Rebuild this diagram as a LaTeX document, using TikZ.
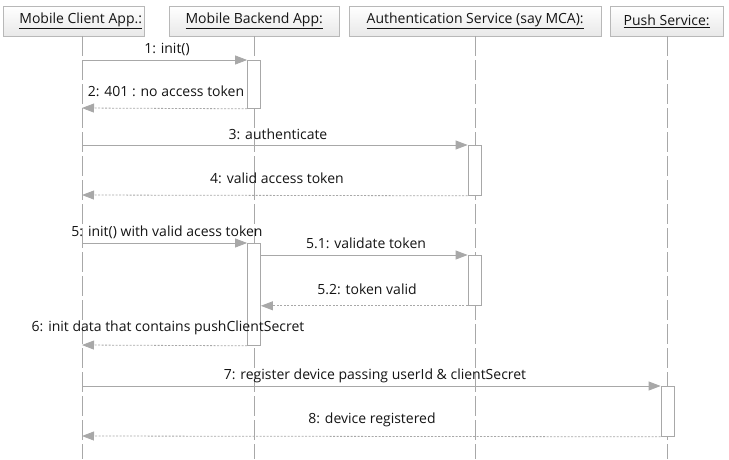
\documentclass[tikz,border=0pt]{standalone}
\usepackage{fontspec}
\setmainfont{Open Sans}
\usetikzlibrary{arrows.meta}
\definecolor{ln}{HTML}{A8A8A8}
\definecolor{bd}{HTML}{B8B8B8}
\begin{document}
\begin{tikzpicture}[x=1pt,y=-1pt,
 head/.style={draw=bd, top color=white, bottom color=black!9, minimum height=30pt, inner sep=0pt, font=\fontsize{14}{16}\selectfont, text=black!92, anchor=north west},
 life/.style={draw=ln, dash pattern=on 20pt off 4pt, line width=0.8pt},
 act/.style={draw=ln, fill=white, minimum width=13pt, inner sep=0pt, anchor=north, line width=0.8pt},
 call/.style={draw=ln, line width=0.8pt, -{Triangle[length=12pt,width=9pt,fill=ln]}},
 ret/.style={call, dash pattern=on 2pt off 1.5pt},
 lbl/.style={font=\fontsize{14}{16}\selectfont, text=black!92, inner sep=0pt}]
\useasboundingbox (0,0) rectangle (729,459);
% header boxes
\node[head, minimum width=141pt] (h1) at (3,6) {\hspace*{14pt}\underline{Mobile Client App.:}};
\node[head, minimum width=170pt] (h2) at (169,6) {\underline{Mobile Backend App:}};
\node[head, minimum width=252pt] (h3) at (349,6) {\underline{Authentication Service (say MCA):}};
\node[head, minimum width=113pt] (h4) at (610,6) {\underline{Push Service:}};
% lifelines
\coordinate (l1t) at (82,36);  \coordinate (l1b) at (82,459);
\coordinate (l2t) at (254,36); \coordinate (l2b) at (254,459);
\coordinate (l3t) at (475,36); \coordinate (l3b) at (475,459);
\coordinate (l4t) at (667,36); \coordinate (l4b) at (667,459);
\draw[life] (l1t) -- (l1b);
\draw[life] (l2t) -- (l2b);
\draw[life] (l3t) -- (l3b);
\draw[life] (l4t) -- (l4b);
% activation boxes
\node[act, minimum height=48pt]  (a1) at (254,60) {};
\node[act, minimum height=50pt]  (a2) at (474.5,145) {};
\node[act, minimum height=102pt] (a3) at (254,243) {};
\node[act, minimum height=50pt]  (a4) at (474.5,255) {};
\node[act, minimum height=50pt]  (a5) at (667.5,386) {};
% client points
\coordinate (c1) at (82,60);
\coordinate (c2) at (82,108);
\coordinate (c3) at (82,145);
\coordinate (c4) at (82,195);
\coordinate (c5) at (82,243);
\coordinate (c6) at (82,345);
\coordinate (c7) at (82,386);
\coordinate (c8) at (82,436);
% messages
\draw[call] (c1) -- (a1.north west);
\node[lbl] (m1) at (167,49) {1: init()};
\draw[ret] (a1.south west) -- (c2);
\node[lbl] (m2) at (166,91) {2: 401 : no access token};
\draw[call] (c3) -- (a2.north west);
\node[lbl] (m3) at (278,134) {3: authenticate};
\draw[ret] (a2.south west) -- (c4);
\node[lbl] (m4) at (277,178) {4: valid access token};
\draw[call] (c5) -- (a3.north west);
\node[lbl] (m5) at (167,232) {5: init() with valid acess token};
\draw[call] (a3.east |- a4.north) -- (a4.north west);
\node[lbl] (m51) at (366,243) {5.1: validate token};
\draw[ret] (a4.south west) -- (a3.east |- a4.south);
\node[lbl] (m52) at (367,289) {5.2: token valid};
\draw[ret] (a3.south west) -- (c6);
\node[lbl] (m6) at (168,328) {6: init data that contains pushClientSecret};
\draw[call] (c7) -- (a5.north west);
\node[lbl] (m7) at (375,376) {7: register device passing userId \& clientSecret};
\draw[ret] (a5.south west) -- (c8);
\node[lbl] (m8) at (372,420) {8: device registered};
\end{tikzpicture}
\end{document}
